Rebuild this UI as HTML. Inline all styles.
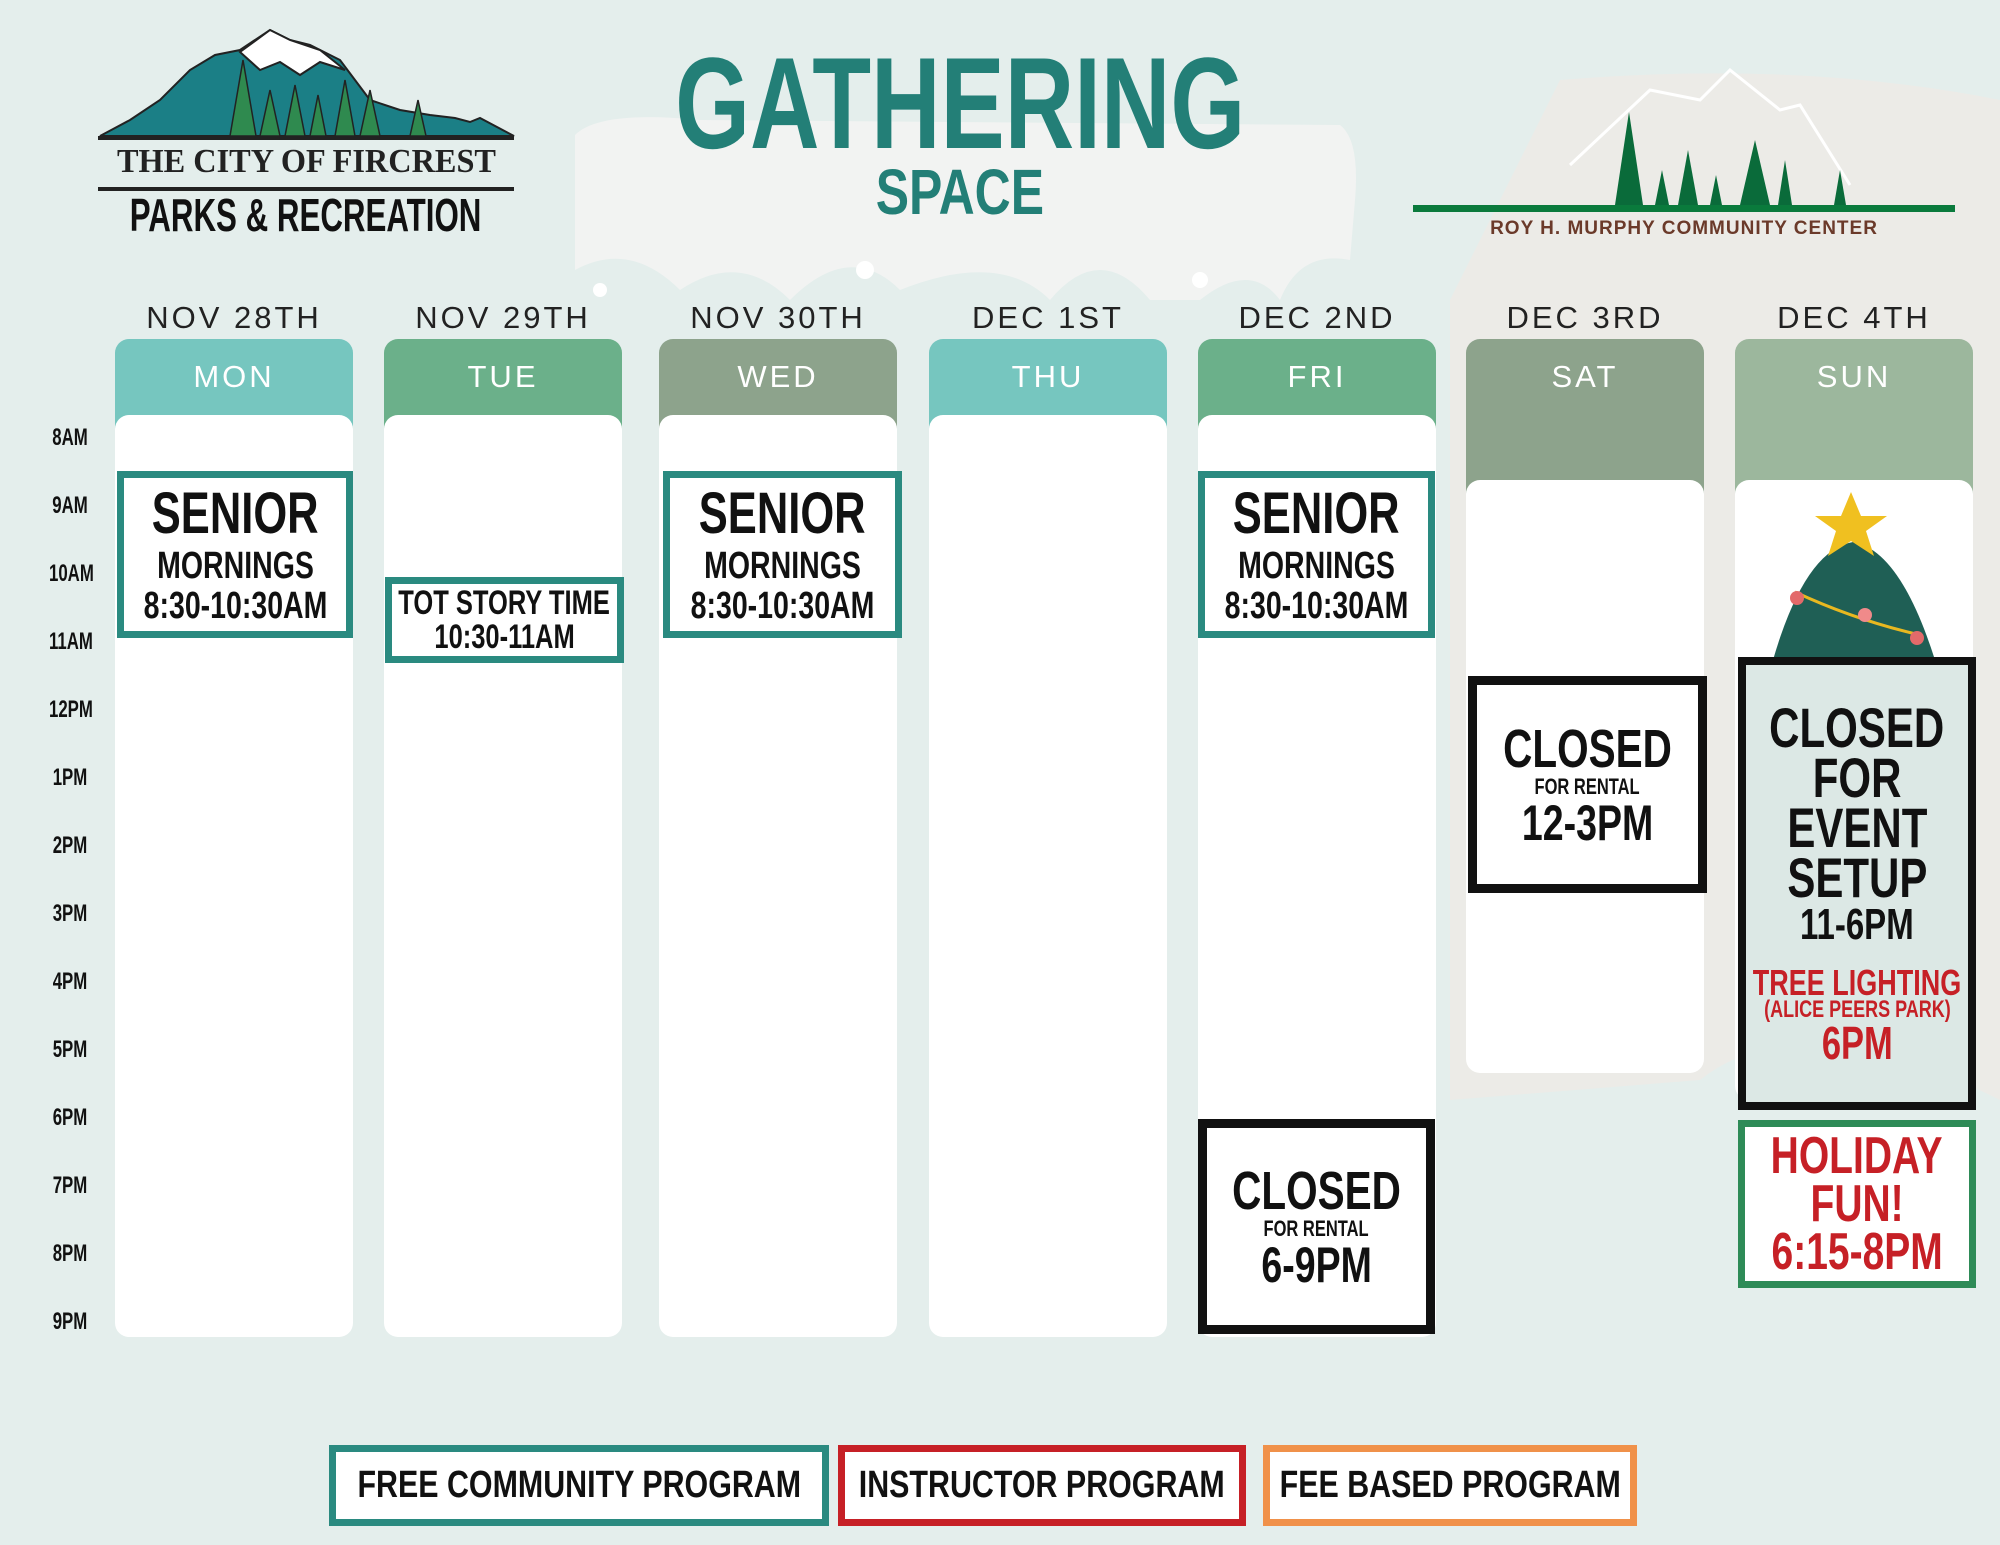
<!DOCTYPE html>
<html><head><meta charset="utf-8"><style>
*{margin:0;padding:0;box-sizing:border-box}
body{width:2000px;height:1545px;overflow:hidden;background:#e4eeec;position:relative;font-family:"Liberation Sans",sans-serif}
.a{position:absolute}
.fx{display:flex;justify-content:center}
.cond{font-weight:bold;white-space:nowrap}
.c{display:inline-block;flex:none;white-space:nowrap;transform:scaleX(.72);transform-origin:center}
.date{position:absolute;top:300px;width:238px;text-align:center;font-size:31px;letter-spacing:3px;color:#222}
.hd{position:absolute;top:339px;width:238px;height:120px;border-radius:14px 14px 0 0;color:#fff;text-align:center;font-size:31px;letter-spacing:3px;padding-top:20px}
.card{position:absolute;width:238px;background:#fff;border-radius:14px}
.tm{position:absolute;left:40px;width:60px;text-align:center;font-size:24px;color:#111;font-weight:bold;transform:scaleX(.7)}
.box{position:absolute;background:#fff;display:flex;flex-direction:column;align-items:center;justify-content:center;text-align:center;line-height:1;font-weight:bold;color:#111;overflow:visible}
.box span{display:block;white-space:nowrap;transform:scaleX(.75)}
.leg{position:absolute;top:1445px;height:81px;background:#fff;display:flex;align-items:center;justify-content:center;font-weight:bold;font-size:38px;color:#111;white-space:nowrap}
</style></head><body>
<svg class="a" style="left:0;top:0" width="2000" height="1545">
<path d="M1560 80 Q1800 60 2000 100 L2000 1100 Q1800 1000 1700 1080 L1450 1100 L1450 300 Z" fill="#ecebe7"/>
<path d="M575 135 Q600 110 700 120 L1340 125 Q1360 140 1355 200 L1350 260 Q1300 250 1280 300 Q1250 260 1200 300 L1150 300 Q1100 240 1050 300 Q1000 250 900 290 Q850 240 790 300 Q740 250 680 290 Q630 240 575 270 Z" fill="#f2f3f2"/>
<circle cx="600" cy="290" r="7" fill="#fff"/><circle cx="865" cy="270" r="9" fill="#fff"/><circle cx="1200" cy="280" r="8" fill="#fff"/>
<path d="M100 136 L130 120 L160 100 L190 70 L215 55 L240 50 L270 30 L290 40 L310 45 L340 60 L370 100 L400 110 L430 115 L455 118 L470 122 L480 118 L514 136 Z" fill="#1b7f86" stroke="#222" stroke-width="2"/>
<path d="M240 52 L270 30 L290 40 L320 50 L345 70 L320 62 L300 75 L280 62 L260 70 Z" fill="#fff" stroke="#222" stroke-width="2"/>
<g fill="#2f8a4f" stroke="#222" stroke-width="1.5">
<polygon points="230,136 243,60 256,136"/><polygon points="260,136 270,90 280,136"/><polygon points="285,136 295,85 305,136"/><polygon points="310,136 318,95 326,136"/><polygon points="335,136 345,80 355,136"/><polygon points="360,136 370,90 380,136"/><polygon points="410,136 418,100 426,136"/>
</g>
<line x1="98" y1="138" x2="514" y2="138" stroke="#222" stroke-width="4"/>
<line x1="98" y1="189" x2="514" y2="189" stroke="#222" stroke-width="4"/>
<polyline points="1570,165 1650,90 1700,100 1730,70 1780,110 1800,105 1850,185" fill="none" stroke="#fff" stroke-width="3"/>
<g fill="#0a6b3a">
<polygon points="1615,205 1629,112 1643,205"/><polygon points="1655,205 1662,170 1669,205"/><polygon points="1678,205 1688,150 1698,205"/><polygon points="1710,205 1716,175 1722,205"/><polygon points="1740,205 1755,140 1770,205"/><polygon points="1778,205 1785,160 1792,205"/><polygon points="1834,205 1840,170 1846,205"/>
</g>
<rect x="1413" y="205" width="542" height="7" fill="#0a7a3c"/>
</svg>
<div class="a fx" style="left:98px;top:143px;width:416px;font-family:'Liberation Serif',serif;font-weight:bold;font-size:34px;color:#222"><span class="c" style="transform:scaleX(.95)">THE CITY OF FIRCREST</span></div>
<div class="a fx cond" style="left:98px;top:188px;width:416px;font-size:46px;color:#111"><span class="c" style="transform:scaleX(.68)">PARKS &amp; RECREATION</span></div>
<div class="a" style="left:1413px;top:218px;width:542px;text-align:center;font-size:19px;font-weight:bold;color:#6b3a2a;letter-spacing:1px">ROY H. MURPHY COMMUNITY CENTER</div>
<div class="a fx cond" style="left:560px;top:38px;width:800px;font-size:130px;line-height:1;color:#237f77"><span class="c" style="transform:scaleX(.74)">GATHERING</span></div>
<div class="a fx cond" style="left:760px;top:160px;width:400px;font-size:64px;line-height:1;color:#237f77"><span class="c" style="transform:scaleX(.78)">SPACE</span></div>

<div class="date" style="left:115px">NOV 28TH</div>
<div class="date" style="left:384px">NOV 29TH</div>
<div class="date" style="left:659px">NOV 30TH</div>
<div class="date" style="left:929px">DEC 1ST</div>
<div class="date" style="left:1198px">DEC 2ND</div>
<div class="date" style="left:1466px">DEC 3RD</div>
<div class="date" style="left:1735px">DEC 4TH</div>

<div class="hd" style="left:115px;background:#76c6bf">MON</div>
<div class="hd" style="left:384px;background:#6bb08a">TUE</div>
<div class="hd" style="left:659px;background:#8da38c">WED</div>
<div class="hd" style="left:929px;background:#76c6bf">THU</div>
<div class="hd" style="left:1198px;background:#6bb08a">FRI</div>
<div class="hd" style="left:1466px;background:#8da38c;height:160px">SAT</div>
<div class="hd" style="left:1735px;background:#9cb79d;height:160px">SUN</div>

<div class="card" style="left:115px;top:415px;height:922px"></div>
<div class="card" style="left:384px;top:415px;height:922px"></div>
<div class="card" style="left:659px;top:415px;height:922px"></div>
<div class="card" style="left:929px;top:415px;height:922px"></div>
<div class="card" style="left:1198px;top:415px;height:922px"></div>
<div class="card" style="left:1466px;top:480px;height:593px"></div>
<div class="card" style="left:1735px;top:480px;height:620px"></div>

<div class="tm" style="top:424px">8AM</div>
<div class="tm" style="top:492px">9AM</div>
<div class="tm" style="top:560px">10AM</div>
<div class="tm" style="top:628px">11AM</div>
<div class="tm" style="top:696px">12PM</div>
<div class="tm" style="top:764px">1PM</div>
<div class="tm" style="top:832px">2PM</div>
<div class="tm" style="top:900px">3PM</div>
<div class="tm" style="top:968px">4PM</div>
<div class="tm" style="top:1036px">5PM</div>
<div class="tm" style="top:1104px">6PM</div>
<div class="tm" style="top:1172px">7PM</div>
<div class="tm" style="top:1240px">8PM</div>
<div class="tm" style="top:1308px">9PM</div>

<svg class="a" style="left:1735px;top:480px" width="240" height="640">
<path d="M38 180 Q70 70 118 62 Q165 70 200 180 Z" fill="#1f5f55"/>
<path d="M60 112 Q120 140 185 155" stroke="#e8b820" stroke-width="3" fill="none"/>
<circle cx="62" cy="118" r="7" fill="#e36a6a"/><circle cx="130" cy="135" r="7" fill="#f08a8a"/><circle cx="182" cy="158" r="7" fill="#e36a6a"/>
<polygon points="116,12 126,36 152,36 131,51 139,76 116,61 93,76 101,51 80,36 106,36" fill="#f0c020"/>
</svg>

<div class="box" style="left:117px;top:471px;width:236px;height:167px;border:7px solid #2a8a80"><span style="font-size:58px">SENIOR</span><span style="font-size:38px;margin-top:4px">MORNINGS</span><span style="font-size:38px;margin-top:2px">8:30-10:30AM</span></div>
<div class="box" style="left:385px;top:577px;width:239px;height:86px;border:7px solid #2a8a80"><span style="font-size:34px">TOT STORY TIME</span><span style="font-size:34px">10:30-11AM</span></div>
<div class="box" style="left:663px;top:471px;width:239px;height:167px;border:7px solid #2a8a80"><span style="font-size:58px">SENIOR</span><span style="font-size:38px;margin-top:4px">MORNINGS</span><span style="font-size:38px;margin-top:2px">8:30-10:30AM</span></div>
<div class="box" style="left:1198px;top:471px;width:237px;height:167px;border:7px solid #2a8a80"><span style="font-size:58px">SENIOR</span><span style="font-size:38px;margin-top:4px">MORNINGS</span><span style="font-size:38px;margin-top:2px">8:30-10:30AM</span></div>
<div class="box" style="left:1198px;top:1119px;width:237px;height:215px;border:9px solid #111"><span style="font-size:54px">CLOSED</span><span style="font-size:22px">FOR RENTAL</span><span style="font-size:50px">6-9PM</span></div>
<div class="box" style="left:1468px;top:676px;width:239px;height:217px;border:9px solid #111"><span style="font-size:54px">CLOSED</span><span style="font-size:22px">FOR RENTAL</span><span style="font-size:50px">12-3PM</span></div>
<div class="box" style="left:1738px;top:657px;width:238px;height:453px;border:8px solid #111;background:#dce8e5;line-height:1"><span style="font-size:56px;line-height:50px">CLOSED</span><span style="font-size:56px;line-height:50px">FOR</span><span style="font-size:56px;line-height:50px">EVENT</span><span style="font-size:56px;line-height:50px">SETUP</span><span style="font-size:44px;line-height:44px">11-6PM</span><span style="font-size:36px;color:#c62026;margin-top:20px;line-height:32px">TREE LIGHTING</span><span style="font-size:24px;color:#c62026;line-height:22px">(ALICE PEERS PARK)</span><span style="font-size:46px;color:#c62026;line-height:44px">6PM</span></div>
<div class="box" style="left:1738px;top:1120px;width:238px;height:168px;border:7px solid #2e8b57;color:#c62026"><span style="font-size:52px;line-height:48px">HOLIDAY</span><span style="font-size:52px;line-height:48px">FUN!</span><span style="font-size:52px;line-height:48px">6:15-8PM</span></div>

<div class="leg" style="left:329px;width:500px;border:7px solid #2a8a80"><span class="c" style="transform:scaleX(.8)">FREE COMMUNITY PROGRAM</span></div>
<div class="leg" style="left:838px;width:408px;border:7px solid #c62026"><span class="c" style="transform:scaleX(.8)">INSTRUCTOR PROGRAM</span></div>
<div class="leg" style="left:1263px;width:374px;border:7px solid #f0914a"><span class="c" style="transform:scaleX(.8)">FEE BASED PROGRAM</span></div>
</body></html>
